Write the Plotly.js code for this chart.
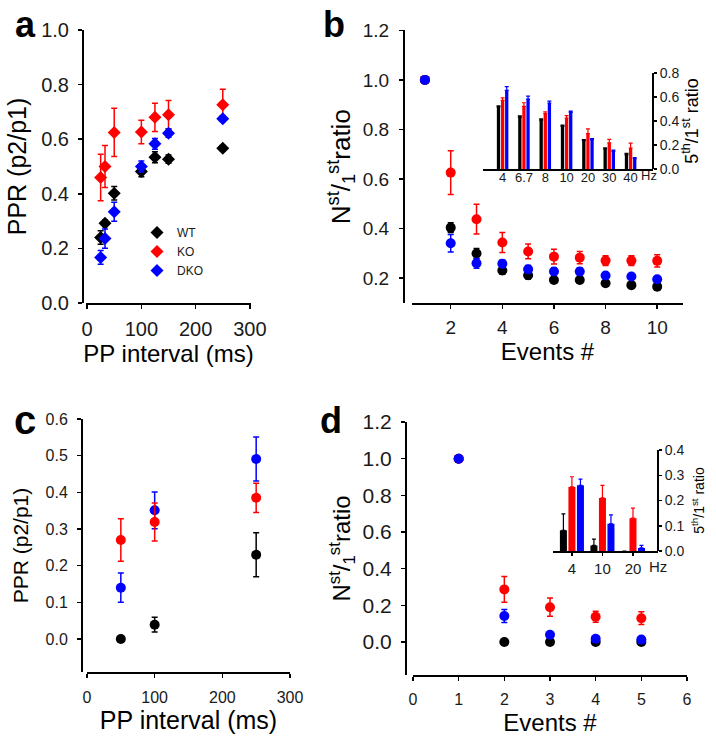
<!DOCTYPE html>
<html>
<head>
<meta charset="utf-8">
<script src="https://cdn.plot.ly/plotly-3.0.1.min.js"></script>
<style>html,body{margin:0;padding:0;background:#fff}#chart{width:716px;height:736px}</style>
</head>
<body>
<div id="chart"></div>
<script>
// ---------- DATA ----------
const groups = ['WT', 'KO', 'DKO'];

// Panel a: PPR vs PP interval (diamonds)
const intervalA = [25, 33, 50, 100, 125, 150, 250];
const pprA_WT  = [0.240, 0.292, 0.402, 0.482, 0.534, 0.527, 0.567];
const pprA_WT_err  = [0.025, 0.012, 0.025, 0.020, 0.020, 0.015, 0.010];
const pprA_KO  = [0.460, 0.500, 0.625, 0.626, 0.680, 0.690, 0.726];
const pprA_KO_err  = [0.085, 0.077, 0.088, 0.043, 0.052, 0.052, 0.057];
const pprA_DKO = [0.167, 0.236, 0.334, 0.500, 0.583, 0.622, 0.675];
const pprA_DKO_err = [0.025, 0.035, 0.035, 0.020, 0.020, 0.015, 0.010];

// Panel b: Nst/1st ratio vs events
const eventsB = [1, 2, 3, 4, 5, 6, 7, 8, 9, 10];
const ratioB_WT  = [1, 0.404, 0.300, 0.231, 0.212, 0.193, 0.193, 0.180, 0.172, 0.166];
const ratioB_WT_err  = [0, 0.020, 0.020, 0.015, 0.015, 0.010, 0.010, 0.010, 0.010, 0.010];
const ratioB_KO  = [1, 0.626, 0.438, 0.344, 0.308, 0.287, 0.283, 0.271, 0.271, 0.270];
const ratioB_KO_err  = [0, 0.088, 0.060, 0.040, 0.030, 0.030, 0.025, 0.020, 0.020, 0.025];
const ratioB_DKO = [1, 0.341, 0.260, 0.258, 0.236, 0.227, 0.227, 0.211, 0.207, 0.196];
const ratioB_DKO_err = [0, 0.035, 0.020, 0.015, 0.015, 0.015, 0.015, 0.010, 0.010, 0.010];

// Panel b inset: 5th/1st ratio by frequency
const freqB = ['4', '6.7', '8', '10', '20', '30', '40'];
const fifthB_WT  = [0.517, 0.433, 0.408, 0.356, 0.236, 0.167, 0.120];
const fifthB_WT_err  = [0.010, 0.010, 0.010, 0.010, 0.010, 0.010, 0.010];
const fifthB_KO  = [0.572, 0.522, 0.461, 0.425, 0.294, 0.217, 0.175];
const fifthB_KO_err  = [0.020, 0.030, 0.015, 0.020, 0.040, 0.030, 0.040];
const fifthB_DKO = [0.656, 0.583, 0.550, 0.472, 0.244, 0.147, 0.086];
const fifthB_DKO_err = [0.030, 0.025, 0.015, 0.010, 0.010, 0.010, 0.010];

// Panel c: PPR vs PP interval (circles)
const intervalC = [50, 100, 250];
const pprC_WT  = [0.000, 0.039, 0.230];
const pprC_WT_err  = [0.004, 0.020, 0.060];
const pprC_KO  = [0.270, 0.319, 0.385];
const pprC_KO_err  = [0.058, 0.052, 0.040];
const pprC_DKO = [0.140, 0.351, 0.491];
const pprC_DKO_err = [0.040, 0.050, 0.060];

// Panel d: Nst/1st ratio vs events
const eventsD = [1, 2, 3, 4, 5];
const ratioD_WT  = [1, 0.000, 0.000, 0.000, 0.000];
const ratioD_WT_err  = [0, 0, 0, 0, 0];
const ratioD_KO  = [1, 0.287, 0.190, 0.138, 0.130];
const ratioD_KO_err  = [0, 0.070, 0.050, 0.030, 0.035];
const ratioD_DKO = [1, 0.142, 0.040, 0.018, 0.013];
const ratioD_DKO_err = [0, 0.035, 0.010, 0.008, 0.008];

// Panel d inset
const freqD = ['4', '10', '20'];
const fifthD_WT  = [0.082, 0.022, 0.000];
const fifthD_WT_err  = [0.065, 0.025, 0.000];
const fifthD_KO  = [0.254, 0.210, 0.130];
const fifthD_KO_err  = [0.040, 0.050, 0.040];
const fifthD_DKO = [0.260, 0.108, 0.012];
const fifthD_DKO_err = [0.025, 0.035, 0.010];

// ---------- STYLE / LAYOUT ----------
const W = 716, H = 736;
const colors = {WT: '#000000', KO: '#ff0000', DKO: '#0000ff'};
const FONT = 'Liberation Sans, Arial, sans-serif';
const px = v => v / W;
const py = v => 1 - v / H;

function scatter(x, y, err, g, xa, ya, symbol, size, showlegend) {
  return {
    type: 'scatter', mode: 'markers', x, y, name: g,
    xaxis: xa, yaxis: ya, showlegend: !!showlegend, legendgroup: g,
    marker: {color: colors[g], symbol, size, line: {width: 0}},
    error_y: {type: 'data', array: err, visible: true, color: colors[g], thickness: 1.5, width: 3}
  };
}
function bars(x, y, err, g, xa, ya, width, offset) {
  return {
    type: 'bar', x, y, name: g, xaxis: xa, yaxis: ya, showlegend: false,
    width, offset,
    marker: {color: colors[g], line: {width: 0}},
    error_y: {type: 'data', symmetric: false, array: err, arrayminus: err.map(() => 0),
              color: colors[g], thickness: 1.2, width: 2}
  };
}

const traces = [
  // panel a
  scatter(intervalA, pprA_WT, pprA_WT_err, 'WT', 'x', 'y', 'diamond', 10, true),
  scatter(intervalA, pprA_KO, pprA_KO_err, 'KO', 'x', 'y', 'diamond', 10, true),
  scatter(intervalA, pprA_DKO, pprA_DKO_err, 'DKO', 'x', 'y', 'diamond', 10, true),
  // panel b
  scatter(eventsB, ratioB_WT, ratioB_WT_err, 'WT', 'x2', 'y2', 'circle', 10),
  scatter(eventsB, ratioB_KO, ratioB_KO_err, 'KO', 'x2', 'y2', 'circle', 10),
  scatter(eventsB, ratioB_DKO, ratioB_DKO_err, 'DKO', 'x2', 'y2', 'circle', 10),
  // panel b inset
  bars(freqB, fifthB_WT, fifthB_WT_err, 'WT', 'x3', 'y3', 0.155, -0.27),
  bars(freqB, fifthB_KO, fifthB_KO_err, 'KO', 'x3', 'y3', 0.155, -0.0775),
  bars(freqB, fifthB_DKO, fifthB_DKO_err, 'DKO', 'x3', 'y3', 0.155, 0.115),
  // panel c
  scatter(intervalC, pprC_WT, pprC_WT_err, 'WT', 'x4', 'y4', 'circle', 10),
  scatter(intervalC, pprC_DKO, pprC_DKO_err, 'DKO', 'x4', 'y4', 'circle', 10),
  scatter(intervalC, pprC_KO, pprC_KO_err, 'KO', 'x4', 'y4', 'circle', 10),
  // panel d
  scatter(eventsD, ratioD_WT, ratioD_WT_err, 'WT', 'x5', 'y5', 'circle', 10),
  scatter(eventsD, ratioD_KO, ratioD_KO_err, 'KO', 'x5', 'y5', 'circle', 10),
  scatter(eventsD, ratioD_DKO, ratioD_DKO_err, 'DKO', 'x5', 'y5', 'circle', 10),
  // panel d inset
  bars(freqD, fifthD_WT, fifthD_WT_err, 'WT', 'x6', 'y6', 0.23, -0.394),
  bars(freqD, fifthD_KO, fifthD_KO_err, 'KO', 'x6', 'y6', 0.23, -0.115),
  bars(freqD, fifthD_DKO, fifthD_DKO_err, 'DKO', 'x6', 'y6', 0.23, 0.164)
];

function baseAxis(extra) {
  return Object.assign({
    showline: true, linewidth: 2, linecolor: '#000', mirror: false,
    ticks: 'outside', ticklen: 4, tickwidth: 1.5, tickcolor: '#000',
    showgrid: false, zeroline: false, fixedrange: true
  }, extra);
}
function xax(l, r, range, anchor, fontSize, extra) {
  return baseAxis(Object.assign({domain: [px(l), px(r)], range, anchor,
    tickfont: {family: FONT, size: fontSize, color: '#1a1a1a'}}, extra));
}
function yax(top, bottom, range, pos, fontSize, extra) {
  return baseAxis(Object.assign({domain: [py(bottom), py(top)], range, anchor: 'free', position: px(pos),
    tickfont: {family: FONT, size: fontSize, color: '#1a1a1a'}}, extra));
}
const titleFont = s => ({family: FONT, size: s, color: '#000'});
const nstTitle = 'N<sup>st</sup>/<sub>1</sub><sup>st</sup>ratio';
const fifthTitle = '5<sup>th</sup>/1<sup>st</sup> ratio';
const lbl = (t, x, y, s) => ({text: '<b>' + t + '</b>', x: px(x), y: py(y), xref: 'paper', yref: 'paper',
  xanchor: 'center', yanchor: 'middle', showarrow: false, font: {family: FONT, size: s, color: '#000'}});

const layout = {
  width: W, height: H,
  margin: {l: 0, r: 0, t: 0, b: 0},
  paper_bgcolor: '#fff', plot_bgcolor: 'rgba(0,0,0,0)',
  font: {family: FONT, color: '#000'},
  barmode: 'overlay',
  showlegend: true,
  legend: {x: px(137), y: py(218), xanchor: 'left', yanchor: 'top',
           bgcolor: 'rgba(0,0,0,0)', font: {family: FONT, size: 12, color: '#1a1a1a'},
           tracegroupgap: 0, itemwidth: 30},
  // panel a
  xaxis: xax(86, 251, [-2, 302], 'y', 20, {tickvals: [0, 100, 200, 300], ticklabelstandoff: 3,
    title: {text: 'PP interval (ms)', font: titleFont(24), standoff: 4}}),
  yaxis: yax(30, 303, [0, 1], 83, 20, {tickvals: [0, 0.2, 0.4, 0.6, 0.8, 1.0], tickformat: '.1f', ticklabelstandoff: 5,
    title: {text: 'PPR (p2/p1)', font: titleFont(25), standoff: 6}}),
  // panel b
  xaxis2: xax(412, 683, [0.5, 11], 'y2', 19, {tickvals: [2, 4, 6, 8, 10], ticklabelstandoff: 2,
    title: {text: 'Events #', font: titleFont(24), standoff: 4}}),
  yaxis2: yax(30.3, 303, [0.1, 1.2], 404, 19, {tickvals: [0.2, 0.4, 0.6, 0.8, 1.0, 1.2], tickformat: '.1f', ticklabelstandoff: 6,
    title: {text: nstTitle, font: titleFont(26), standoff: 4}}),
  // panel b inset
  xaxis3: xax(483, 653, [-0.92, 7.05], 'y3', 13, {type: 'category', ticks: '', ticklen: 0, ticklabelstandoff: -5}),
  yaxis3: yax(73, 169, [0, 0.8], 653, 14, {side: 'right', tickvals: [0, 0.2, 0.4, 0.6, 0.8], tickformat: '.1f',
    ticklen: 3, title: {text: fifthTitle, font: titleFont(18), standoff: 3}}),
  // panel c
  xaxis4: xax(87, 290, [0, 300], 'y4', 16, {tickvals: [0, 100, 200, 300], ticklabelstandoff: 6,
    title: {text: 'PP interval (ms)', font: titleFont(25), standoff: 2}}),
  yaxis4: yax(419, 672, [-0.09, 0.6], 82, 16, {tickvals: [0, 0.1, 0.2, 0.3, 0.4, 0.5, 0.6], tickformat: '.1f', ticklabelstandoff: 6,
    title: {text: 'PPR (p2/p1)', font: titleFont(21), standoff: 10}}),
  // panel d
  xaxis5: xax(413, 687, [0, 6], 'y5', 16, {tickvals: [0, 1, 2, 3, 4, 5, 6], ticklabelstandoff: 5,
    title: {text: 'Events #', font: titleFont(24), standoff: 18}}),
  yaxis5: yax(422, 675, [-0.18, 1.2], 406, 21, {tickvals: [0, 0.2, 0.4, 0.6, 0.8, 1.0, 1.2], tickformat: '.1f', ticklabelstandoff: 5,
    title: {text: nstTitle, font: titleFont(24), standoff: 4}}),
  // panel d inset
  xaxis6: xax(553, 658, [-0.62, 2.82], 'y6', 15, {type: 'category', ticklen: 3}),
  yaxis6: yax(450, 551, [0, 0.4], 658, 14, {side: 'right', tickvals: [0, 0.1, 0.2, 0.3, 0.4], tickformat: '.1f',
    ticklen: 3, title: {text: fifthTitle, font: titleFont(14), standoff: 10}}),
  annotations: [
    lbl('a', 25, 24, 36),
    lbl('b', 334, 25, 36),
    lbl('c', 25, 420, 40),
    lbl('d', 331, 420, 36),
    {text: 'Hz', x: px(649), y: py(176), xref: 'paper', yref: 'paper', xanchor: 'center', yanchor: 'middle',
     showarrow: false, font: {family: FONT, size: 13, color: '#1a1a1a'}},
    {text: 'Hz', x: px(658), y: py(566), xref: 'paper', yref: 'paper', xanchor: 'center', yanchor: 'middle',
     showarrow: false, font: {family: FONT, size: 15, color: '#1a1a1a'}}
  ]
};

Plotly.newPlot('chart', traces, layout, {staticPlot: true, displayModeBar: false});
</script>
</body>
</html>
